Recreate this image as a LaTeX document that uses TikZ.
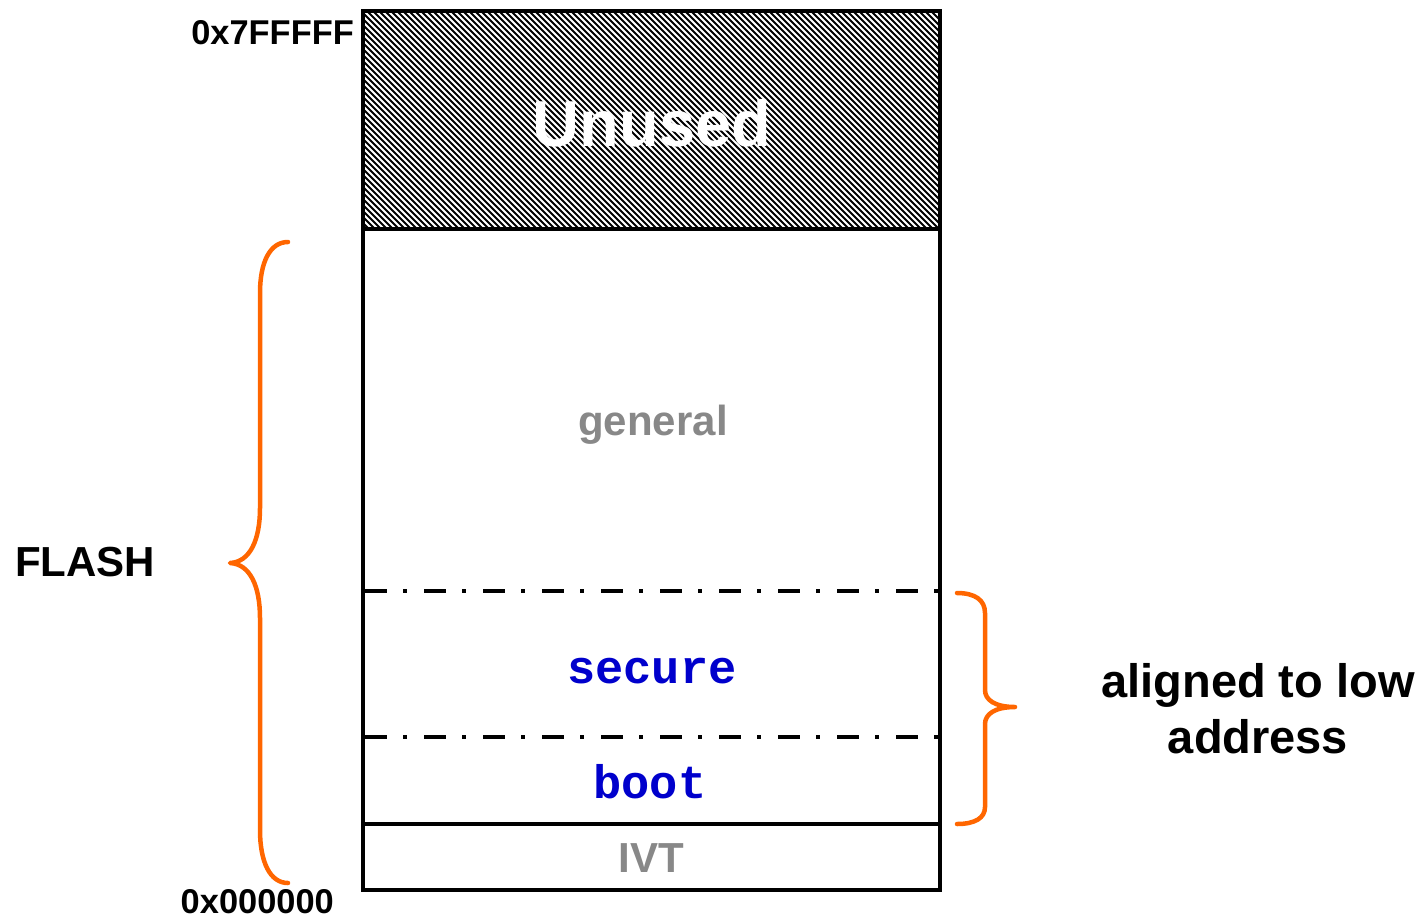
\documentclass[tikz,border=0pt]{standalone}
\usepackage{fontspec}
\setmainfont{Liberation Sans}
\newfontfamily\monob{Liberation Mono}
\definecolor{braceorange}{HTML}{FF6600}
\definecolor{labelgray}{HTML}{888888}
\definecolor{codeblue}{HTML}{0000CC}
\tikzset{
  frame/.style={line width=4pt, line cap=rect},
  partition/.style={line width=4pt, dash pattern=on 22pt off 16pt on 4pt off 17pt},
  brace/.style={draw=braceorange, line width=4.5pt, line cap=round, line join=round},
  addr/.style={font=\fontsize{34.4}{38}\selectfont\bfseries, anchor=base, inner sep=0pt},
  region/.style={font=\fontsize{42}{48}\selectfont\bfseries, anchor=base, inner sep=0pt},
  code/.style={font=\fontsize{47}{52}\selectfont\monob\bfseries, text=codeblue, anchor=base, inner sep=0pt},
}
\begin{document}
\begin{tikzpicture}[x=1pt, y=-1pt]
\useasboundingbox (0,0) rectangle (1426,919);

% hatched unused block
\begin{scope}
  \clip (363,11) rectangle (940,229);
  \fill[white] (363,11) rectangle (940,229);
  \foreach \k in {0,...,135} {
    \draw[line width=2.1pt] ({145+6*\k},11) -- ({363+6*\k},229);
  }
\end{scope}

% memory outline
\draw[frame] (363,11) rectangle (940,890);
\draw[frame] (363,229) -- (940,229);
\draw[frame] (363,824) -- (940,824);
\draw[partition] (365,591) -- (938,591);
\draw[partition] (365,737) -- (938,737);

% region labels
\node[font=\fontsize{65}{70}\selectfont\bfseries, text=white, anchor=base, inner sep=0pt] (unused) at (652,146) {Unused};
\node[region, text=labelgray] (general) at (653,435) {general};
\node[code] (secure) at (652,683) {secure};
\node[code] (boot) at (650,798) {boot};
\node[region, text=labelgray] (ivt) at (651,872) {IVT};

% addresses
\node[addr, anchor=base east] (top) at (354,44) {0x7FFFFF};
\node[addr, anchor=base east] (bottom) at (334,913) {0x000000};

% flash brace
\draw[brace] (288,242) .. controls (270,242) and (260,262) .. (260,293)
  -- (260,508) .. controls (260,540) and (250,562) .. (230,563)
  .. controls (250,564) and (260,586) .. (260,618)
  -- (260,830) .. controls (260,862) and (270,883) .. (288,883);
\node[region, anchor=base west] (flash) at (15,576) {FLASH};

% low-address brace
\draw[brace] (957,593) .. controls (975,593) and (985,600) .. (985,613)
  -- (985,690) .. controls (985,700) and (995,707) .. (1015,707)
  .. controls (995,707) and (985,714) .. (985,724)
  -- (985,807) .. controls (985,818) and (975,824) .. (957,824);
\node[font=\fontsize{47}{56}\selectfont\bfseries, align=center, inner sep=0pt] (aligned) at (1258,709) {aligned to low\\address};
\end{tikzpicture}
\end{document}
